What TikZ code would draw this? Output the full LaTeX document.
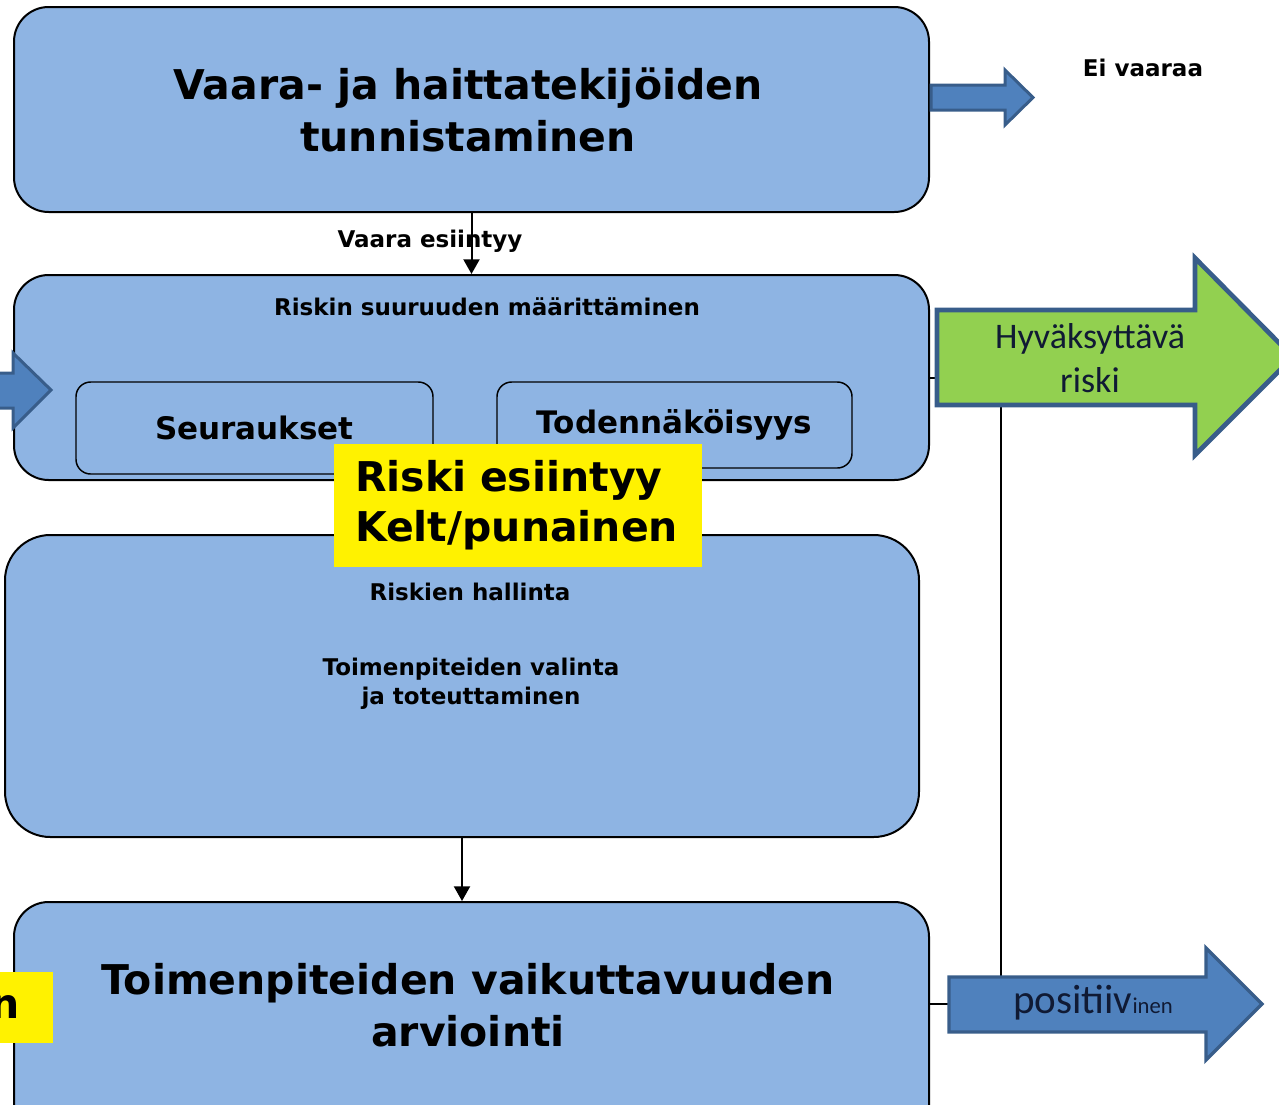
\documentclass[tikz,border=0pt]{standalone}
\usepackage{fontspec}
\setmainfont{DejaVu Sans}
\newfontfamily\calfont{Carlito}
\usetikzlibrary{arrows.meta}

\definecolor{boxblue}{RGB}{142,180,227}
\definecolor{arrowblue}{RGB}{79,129,189}
\definecolor{arrowedge}{RGB}{56,93,138}
\definecolor{okgreen}{RGB}{146,208,80}
\definecolor{labelnavy}{RGB}{16,26,52}

\tikzset{every picture/.style={line width=0.75pt}}
\tikzset{
  stagebox/.style={draw=black, fill=boxblue, line width=1.5pt, rounded corners=26pt, inner sep=0pt},
  subbox/.style={draw=black, fill=boxblue, line width=1.1pt, rounded corners=11pt, inner sep=0pt},
  bigtext/.style={font=\bfseries\fontsize{30.75}{39}\selectfont, align=center, inner sep=0.75pt},
  midtext/.style={font=\bfseries\fontsize{23.25}{28}\selectfont, inner sep=0.75pt},
  smalltext/.style={font=\bfseries\fontsize{17.25}{21.75}\selectfont, align=center, inner sep=0.75pt},
  notebox/.style={fill=yellow, font=\bfseries\fontsize{30.75}{37.5}\selectfont, inner ysep=0pt},
  blockarrow/.style={draw=arrowedge, fill=arrowblue, line width=2.25pt, line join=miter},
  arrowtext/.style={font=\calfont, text=labelnavy, inner sep=0.75pt, align=center},
  flow/.style={line width=1.5pt, -{Triangle[width=12pt,length=11pt]}}
}

\begin{document}
\begin{tikzpicture}[x=0.75pt,y=0.75pt,yscale=-1,xscale=1]
\useasboundingbox (0,0) rectangle (1279,1104);

%Shape: Rounded Rect [id:tunnistus]
\node (tunnistus) at (471.5,109.5) [stagebox, minimum width=686.25pt, minimum height=153.75pt] {};
% Text Node
\node (tunnistusText) at (468,110) [bigtext] {Vaara- ja haittatekijöiden\\tunnistaminen};

%Shape: Rounded Rect [id:riskmaar]
\node (riskmaar) at (471.5,377.5) [stagebox, minimum width=686.25pt, minimum height=153.75pt] {};
% Text Node
\node (riskmaarText) at (487,307) [smalltext] {Riskin suuruuden määrittäminen};
%Shape: Rounded Rect [id:seuraukset]
\node (seuraukset) at (254.5,428) [subbox, minimum width=267.75pt, minimum height=69pt, midtext] {Seuraukset};
%Shape: Rounded Rect [id:todnak]
\node (todnak) at (674.5,425) [subbox, minimum width=266.25pt, minimum height=64.5pt, midtext] {Todennäköisyys};

%Shape: Rounded Rect [id:hallinta]
\node (hallinta) at (462,686) [stagebox, rounded corners=34pt, minimum width=685.5pt, minimum height=226.5pt] {};
% Text Node
\node (hallintaTitle) at (470,592) [smalltext] {Riskien hallinta};
% Text Node
\node (hallintaText) at (471,684) [smalltext] {Toimenpiteiden valinta\\ja toteuttaminen};

%Shape: Rounded Rect [id:arviointi]
\node (arviointi) at (471.5,1021) [stagebox, minimum width=686.25pt, minimum height=178.5pt] {};
% Text Node
\node (arviointiText) at (468,1005) [bigtext] {Toimenpiteiden vaikuttavuuden\\arviointi};

%Shape: Yellow Note [id:riski]
\node (riski) at (518,505.5) [notebox, minimum width=276pt, minimum height=92.25pt, text width=244.5pt, inner xsep=15.75pt, align=left] {Riski esiintyy\\Kelt/punainen};
%Shape: Yellow Note [id:keltRest]
\node (keltRest) at (-23.5,1007.5) [notebox, minimum height=53.25pt, text width=65.25pt, inner xsep=24.75pt, align=right] {n};

% Text Node
\node (vaaraText) at (430,241) [smalltext] {Vaara esiintyy};
% Text Node
\node (eiVaaraa) at (1143,68) [smalltext] {Ei vaaraa};

%Straight Lines [id:flow1]
\draw [flow] (tunnistus.south) -- (riskmaar.north);
%Straight Lines [id:flow2]
\draw [flow] (hallinta.south) -- (hallinta.south |- arviointi.north);

\coordinate (greenIn) at (937,378);
\coordinate (greenFoot) at (1001,405);
\coordinate (posTop) at (1001,977);
\coordinate (posIn) at (949,1004);
%Straight Lines [id:links]
\draw [line width=1.1pt] (riskmaar.east |- greenIn) -- (greenIn);
\draw [line width=1.1pt] (greenFoot) -- (posTop);
\draw [line width=1.1pt] (arviointi.east |- posIn) -- (posIn);

%Shape: Right Arrow [id:eiArrow]
\draw [blockarrow] (931,85) -- (1005,85) -- (1005,70) -- (1033,97.5) -- (1005,125) -- (1005,110) -- (931,110) -- cycle;
%Shape: Right Arrow [id:sideArrow]
\draw [blockarrow] (-20,373) -- (13,373) -- (13,353) -- (51,390) -- (13,428) -- (13,408) -- (-20,408) -- cycle;
%Shape: Right Arrow [id:greenArrow]
\draw [blockarrow, fill=okgreen, line width=3.5pt] (937,310) -- (1195,310) -- (1195,258) -- (1293,357) -- (1195,455) -- (1195,405) -- (937,405) -- cycle;
% Text Node
\node (hyvaksy) at (1090,358) [arrowtext, font=\calfont\fontsize{27}{33}\selectfont] {Hyväksyttävä\\riski};
%Shape: Right Arrow [id:posArrow]
\draw [blockarrow, line width=2.5pt] (949,977) -- (1206,977) -- (1206,948) -- (1262,1004) -- (1206,1060) -- (1206,1032) -- (949,1032) -- cycle;
% Text Node
\node (positiiv) at (1093,1003) [arrowtext, font=\calfont\fontsize{30.75}{36}\selectfont] {positiiv{\fontsize{17}{20}\selectfont inen}};

\end{tikzpicture}
\end{document}
